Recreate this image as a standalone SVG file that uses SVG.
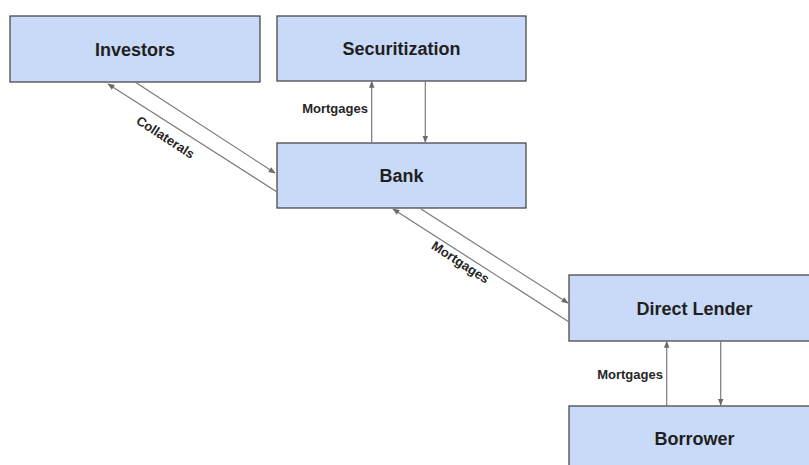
<svg xmlns="http://www.w3.org/2000/svg" width="809" height="465" viewBox="0 0 809 465">
<style>
.box{fill:#c9daf8;stroke:#4a4a4a;stroke-width:1.3}
.t{font-family:"Liberation Sans",Arial,sans-serif;font-weight:bold;font-size:18px;fill:#1f1f1f;text-anchor:middle}
.l{font-family:"Liberation Sans",Arial,sans-serif;font-weight:bold;font-size:13px;fill:#262626;text-anchor:middle}
.c{stroke:#7a7a7a;stroke-width:1.2;fill:none;marker-end:url(#ah)}
.n{stroke:#7a7a7a;stroke-width:1.2;fill:none}
</style>
<defs>
<marker id="ah" viewBox="0 0 10 10" refX="9" refY="5" markerWidth="7" markerHeight="7" markerUnits="userSpaceOnUse" orient="auto">
<path d="M0,1 L10,5 L0,9 z" fill="#6a6a6a"/>
</marker>
</defs>
<rect width="809" height="465" fill="#ffffff"/>
<g id="investors"><rect class="box" x="10" y="16" width="250" height="66"/><text class="t" x="135" y="55.5">Investors</text></g>
<g id="securitization"><rect class="box" x="277" y="16" width="249" height="65"/><text class="t" x="401.5" y="55">Securitization</text></g>
<g id="bank"><rect class="box" x="277" y="143" width="249" height="65"/><text class="t" x="401.5" y="182">Bank</text></g>
<g id="direct-lender"><rect class="box" x="569" y="275" width="252" height="66"/><text class="t" x="694.5" y="314.5">Direct Lender</text></g>
<g id="borrower"><rect class="box" x="569" y="406" width="252" height="66"/><text class="t" x="694.5" y="445">Borrower</text></g>
<g id="connectors">
<line class="c" x1="277" y1="192" x2="108" y2="84"/>
<line class="c" x1="135" y1="82" x2="275" y2="173"/>
<text class="l" transform="translate(163,141) rotate(33)">Collaterals</text>
<line class="c" x1="371.7" y1="143" x2="371.7" y2="81.5"/>
<line class="c" x1="425.3" y1="81" x2="425.3" y2="142"/>
<text class="l" x="335" y="113">Mortgages</text>
<line class="c" x1="569" y1="322" x2="393" y2="209"/>
<line class="c" x1="421" y1="209" x2="568" y2="303"/>
<text class="l" transform="translate(458,266) rotate(33)">Mortgages</text>
<line class="c" x1="666.7" y1="406" x2="666.7" y2="341.5"/>
<line class="c" x1="720.7" y1="341" x2="720.7" y2="405"/>
<text class="l" x="630" y="379">Mortgages</text>
</g>
</svg>
